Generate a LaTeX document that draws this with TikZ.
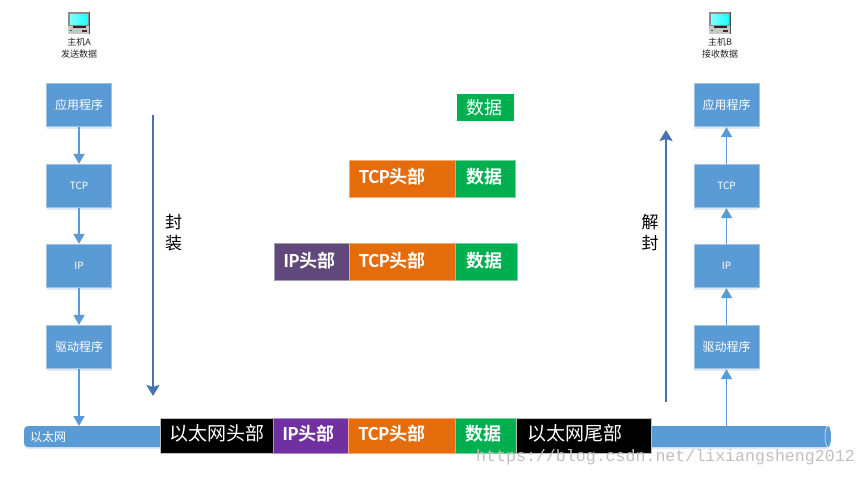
\documentclass[tikz,border=0pt]{standalone}
\usepackage{fontspec}
\setmainfont{Noto Sans CJK SC}[BoldFont={Noto Sans CJK SC Bold}]
\setmonofont{Liberation Mono}
\newfontfamily\calibrilike{Carlito}
\newcommand{\lat}[1]{{\calibrilike\fontsize{20}{20}\selectfont\bfseries #1}}
\usetikzlibrary{arrows.meta,shadows}
\definecolor{stackblue}{RGB}{91,155,213}
\definecolor{arrowblue}{RGB}{68,114,178}
\definecolor{hdrgreen}{RGB}{0,176,80}
\definecolor{hdrorange}{RGB}{228,108,10}
\definecolor{hdrviolet}{RGB}{96,73,122}
\definecolor{hdrpurple}{RGB}{112,48,160}
\tikzset{
    layerbox/.style={fill=stackblue, draw=stackblue!60!white, line width=0.7pt, minimum width=65pt, minimum height=43.5pt, inner sep=0pt, text=white, font=\fontsize{12}{12}\selectfont, drop shadow={shadow xshift=0pt, shadow yshift=-2pt, opacity=0.2, fill=stackblue}},
    hdrbox/.style={draw=white!75!black, line width=0.7pt, inner sep=0pt, text=white, text height=12pt, text depth=2pt, font=\fontsize{18}{20}\selectfont\bfseries},
    layerline/.style={draw=stackblue, line width=1.8pt, -{Triangle[length=10pt,width=11pt]}},
    longline/.style={draw=arrowblue, line width=2.6pt, -{Stealth[length=11pt,width=13pt,inset=2pt]}},
    hostlabel/.style={font=\fontsize{9}{12}\selectfont, text=black!85, align=center},
}
\begin{document}
\begin{tikzpicture}[x=1pt, y=-1pt]
    \useasboundingbox (0, 0) rectangle (866, 477);

    % hosts
    \foreach \x in {79, 720}
    {
        \fill[black!45] (\x-11, 12) rectangle (\x+11, 26);
        \fill[black!70] (\x+9.5, 12) rectangle (\x+11, 34);
        \shade[left color=cyan!50!white, right color=cyan!90!white] (\x-9, 14) rectangle (\x+8.5, 24.5);
        \fill[black!22] (\x-11, 26) rectangle (\x+10, 34);
        \fill[black!85] (\x-6, 26) rectangle (\x+7, 27.5);
        \fill[black!80] (\x+3, 29.5) rectangle (\x+8, 31.5);
        \fill[green!50!black] (\x-9, 30) rectangle (\x-7.5, 31);
    }
    \node[hostlabel] (hostA) at (79, 48) {主机A\\发送数据};
    \node[hostlabel] (hostB) at (720, 48) {主机B\\接收数据};

    % ethernet
    \fill[stackblue, rounded corners=4pt, drop shadow={shadow xshift=0pt, shadow yshift=-2pt, opacity=0.2, fill=stackblue}] (24, 426) rectangle (170, 447);
    \fill[stackblue, drop shadow={shadow xshift=0pt, shadow yshift=-2pt, opacity=0.2, fill=stackblue}] (645, 426) -- (828, 426) arc[x radius=3, y radius=10.5, start angle=-90, end angle=90] -- (645, 447) -- cycle;
    \draw[white!70!stackblue, line width=0.7pt] (828, 426) arc[x radius=3, y radius=10.5, start angle=270, end angle=90];
    \node[text=white, font=\fontsize{12}{12}\selectfont] (etherA) at (48, 437) {以太网};
    \coordinate (etherInA) at (79, 426);
    \coordinate (etherOutB) at (726.5, 426);

    % stacks
    \node[layerbox] (appA) at (79, 105) {应用程序};
    \node[layerbox] (tcpA) at (79, 186) {\fontsize{10}{12}\selectfont TCP};
    \node[layerbox] (ipA) at (79, 266) {\fontsize{10}{12}\selectfont IP};
    \node[layerbox] (drvA) at (79, 347) {驱动程序};
    \node[layerbox] (appB) at (726.5, 105) {应用程序};
    \node[layerbox] (tcpB) at (726.5, 186) {\fontsize{10}{12}\selectfont TCP};
    \node[layerbox] (ipB) at (726.5, 266) {\fontsize{10}{12}\selectfont IP};
    \node[layerbox] (drvB) at (726.5, 347) {驱动程序};

    \draw[layerline] (appA) -- (tcpA);
    \draw[layerline] (tcpA) -- (ipA);
    \draw[layerline] (ipA) -- (drvA);
    \draw[layerline] (drvA) -- (etherInA);
    \draw[layerline] (etherOutB) -- (drvB);
    \draw[layerline] (drvB) -- (ipB);
    \draw[layerline] (ipB) -- (tcpB);
    \draw[layerline] (tcpB) -- (appB);

    % long arrows
    \coordinate (encapTop) at (153, 115);
    \coordinate (encapEnd) at (153, 396);
    \coordinate (decapTop) at (666, 130);
    \coordinate (decapEnd) at (666, 402);
    \draw[longline] (encapTop) -- (encapEnd);
    \draw[longline] (decapEnd) -- (decapTop);
    \node[font=\fontsize{17}{21}\selectfont, align=center] (encap) at (173.5, 233) {封\\装};
    \node[font=\fontsize{17}{21}\selectfont, align=center] (decap) at (650, 233) {解\\封};

    % headers, top down
    \node[fill=hdrgreen, inner sep=0pt, minimum width=57pt, minimum height=27pt, text=white, font=\fontsize{18}{20}\selectfont] (dataA) at (485.5, 107.5) {数据\hspace*{3pt}};

    \node[hdrbox, fill=hdrorange, minimum width=106pt, minimum height=37pt, draw=hdrorange!55!white] (tcpB1) at (402, 178.5) {\lat{TCP}头部\hspace*{19pt}};
    \node[hdrbox, fill=hdrgreen, minimum width=60pt, minimum height=37pt, draw=hdrgreen!55!white] (dataB) at (485.5, 178.5) {数据\hspace*{3pt}};

    \node[hdrbox, fill=hdrviolet, minimum width=75pt, minimum height=37pt, draw=hdrviolet!55!white] (ipC) at (311.5, 262) {\lat{IP}头部\hspace*{4pt}};
    \node[hdrbox, fill=hdrorange, minimum width=106pt, minimum height=37pt, draw=hdrorange!55!white] (tcpC) at (402, 262) {\lat{TCP}头部\hspace*{19pt}};
    \node[hdrbox, fill=hdrgreen, minimum width=62pt, minimum height=37pt, draw=hdrgreen!55!white] (dataC) at (486, 262) {数据\hspace*{4pt}};

    \node[hdrbox, fill=black, minimum width=113pt, minimum height=35pt, font=\fontsize{19}{20}\selectfont] (ethHead) at (216.5, 435.5) {以太网头部};
    \node[hdrbox, fill=hdrpurple, minimum width=75pt, minimum height=35pt, draw=hdrpurple!55!white] (ipD) at (310.5, 435.5) {\lat{IP}头部\hspace*{4pt}};
    \node[hdrbox, fill=hdrorange, minimum width=107pt, minimum height=35pt, draw=hdrorange!55!white] (tcpD) at (401.5, 435.5) {\lat{TCP}头部\hspace*{19pt}};
    \node[hdrbox, fill=hdrgreen, minimum width=61pt, minimum height=35pt, draw=hdrgreen!55!white] (dataD) at (485.5, 435.5) {数据\hspace*{4pt}};
    \node[hdrbox, fill=black, minimum width=135pt, minimum height=35pt, font=\fontsize{19}{20}\selectfont] (ethTail) at (583.5, 435.5) {以太网尾部\hspace*{18pt}};

    % watermark
    \node[text=black!25, font=\ttfamily\fontsize{16.6}{18}\selectfont, inner sep=0pt] (mark) at (665.5, 457) {https://blog.csdn.net/lixiangsheng2012};
\end{tikzpicture}
\end{document}
